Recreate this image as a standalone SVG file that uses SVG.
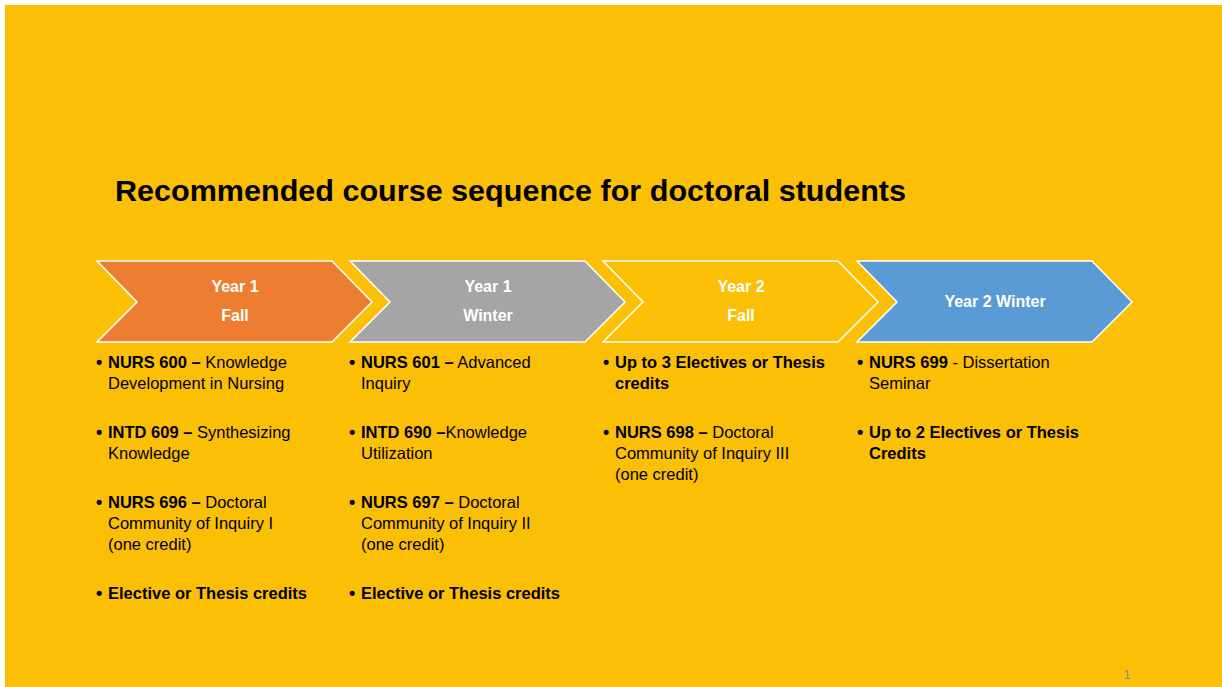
<svg xmlns="http://www.w3.org/2000/svg" width="1222" height="687" viewBox="0 0 1222 687">
<style>
.chev{stroke:#ffffff;stroke-width:1.5;stroke-linejoin:miter}
.hd{font-family:"Liberation Sans",Arial,sans-serif;font-weight:bold;font-size:16px;fill:#ffffff;text-anchor:middle}
.tx{font-family:"Liberation Sans",Arial,sans-serif;font-size:16.5px;fill:#000000}
.b{font-weight:bold}
.bu{font-weight:bold;font-size:18px}
.title{font-family:"Liberation Sans",Arial,sans-serif;font-weight:bold;font-size:30px;fill:#000000}
</style>
<defs>
<path id="chev" d="M0,0 L235,0 L275,41 L235,81 L0,81 L40,41 Z"/>
</defs>
<rect x="0" y="0" width="1222" height="687" fill="#ffffff"/>
<rect x="5" y="5" width="1217" height="682" fill="#FBBF05"/>
<text class="title" x="115" y="201" textLength="791" lengthAdjust="spacingAndGlyphs">Recommended course sequence for doctoral students</text>
<g id="connectors"/>
<g id="node-y1fall">
<use href="#chev" x="97" y="261" class="chev" fill="#ED7D31"/>
<text class="hd" x="235" y="292">Year 1</text>
<text class="hd" x="235" y="321">Fall</text>
</g>
<g id="node-y1winter">
<use href="#chev" x="350" y="261" class="chev" fill="#A5A5A5"/>
<text class="hd" x="488" y="292">Year 1</text>
<text class="hd" x="488" y="321">Winter</text>
</g>
<g id="node-y2fall">
<use href="#chev" x="603" y="261" class="chev" fill="#FBBF05"/>
<text class="hd" x="741" y="292">Year 2</text>
<text class="hd" x="741" y="321">Fall</text>
</g>
<g id="node-y2winter">
<use href="#chev" x="857" y="261" class="chev" fill="#5B9BD5"/>
<text class="hd" x="995" y="307">Year 2 Winter</text>
</g>
<g id="list-col1" class="tx">
<text x="96" y="368" class="bu">•</text>
<text x="108" y="368"><tspan class="b">NURS 600 –</tspan> Knowledge</text>
<text x="108" y="389">Development in Nursing</text>
<text x="96" y="438" class="bu">•</text>
<text x="108" y="438"><tspan class="b">INTD 609 –</tspan> Synthesizing</text>
<text x="108" y="459">Knowledge</text>
<text x="96" y="508" class="bu">•</text>
<text x="108" y="508"><tspan class="b">NURS 696 –</tspan> Doctoral</text>
<text x="108" y="529">Community of Inquiry I</text>
<text x="108" y="550">(one credit)</text>
<text x="96" y="599" class="bu">•</text>
<text x="108" y="599" class="b">Elective or Thesis credits</text>
</g>
<g id="list-col2" class="tx">
<text x="349" y="368" class="bu">•</text>
<text x="361" y="368"><tspan class="b">NURS 601 –</tspan> Advanced</text>
<text x="361" y="389">Inquiry</text>
<text x="349" y="438" class="bu">•</text>
<text x="361" y="438"><tspan class="b">INTD 690 –</tspan>Knowledge</text>
<text x="361" y="459">Utilization</text>
<text x="349" y="508" class="bu">•</text>
<text x="361" y="508"><tspan class="b">NURS 697 –</tspan> Doctoral</text>
<text x="361" y="529">Community of Inquiry II</text>
<text x="361" y="550">(one credit)</text>
<text x="349" y="599" class="bu">•</text>
<text x="361" y="599" class="b">Elective or Thesis credits</text>
</g>
<g id="list-col3" class="tx">
<text x="603" y="368" class="bu">•</text>
<text x="615" y="368" class="b">Up to 3 Electives or Thesis</text>
<text x="615" y="389" class="b">credits</text>
<text x="603" y="438" class="bu">•</text>
<text x="615" y="438"><tspan class="b">NURS 698 –</tspan> Doctoral</text>
<text x="615" y="459">Community of Inquiry III</text>
<text x="615" y="480">(one credit)</text>
</g>
<g id="list-col4" class="tx">
<text x="857" y="368" class="bu">•</text>
<text x="869" y="368"><tspan class="b">NURS 699</tspan> - Dissertation</text>
<text x="869" y="389">Seminar</text>
<text x="857" y="438" class="bu">•</text>
<text x="869" y="438" class="b">Up to 2 Electives or Thesis</text>
<text x="869" y="459" class="b">Credits</text>
</g>
<text x="1127" y="679" font-family="Liberation Sans,Arial,sans-serif" font-size="12" fill="#8C8C8C" text-anchor="middle">1</text>
</svg>
